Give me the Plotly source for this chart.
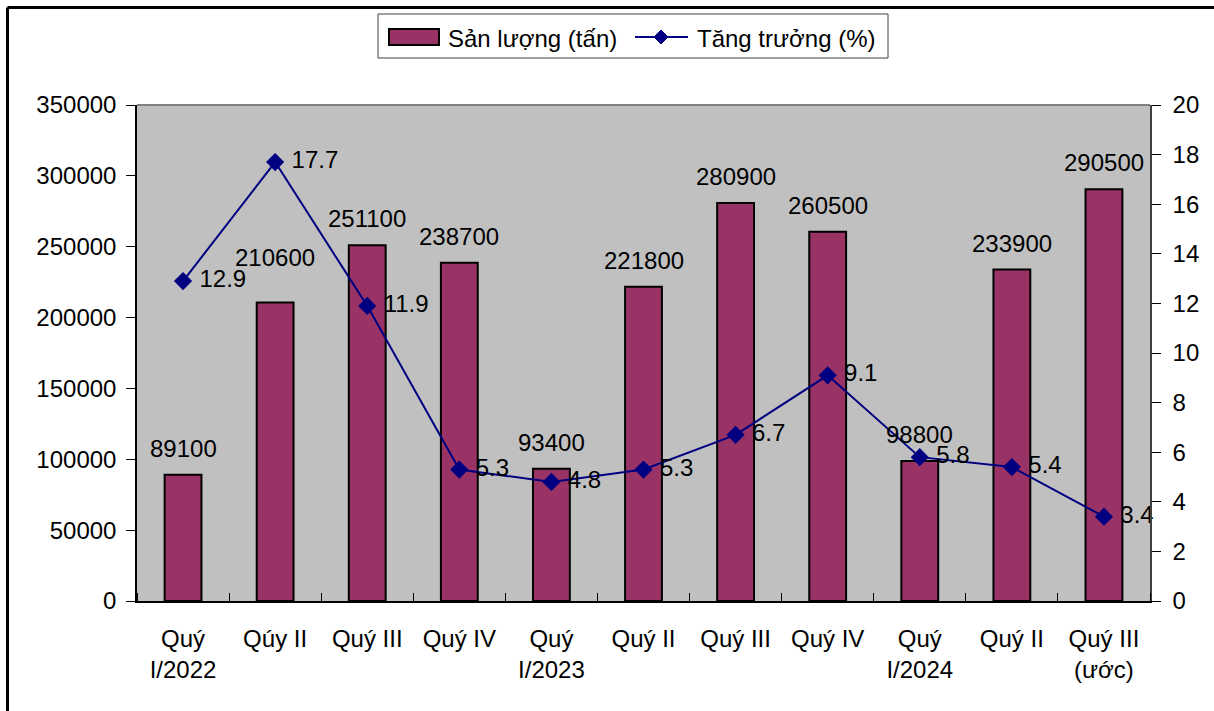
import plotly.graph_objects as go

categories = ["Quý<br>I/2022", "Qúy II", "Quý III", "Quý IV", "Quý<br>I/2023",
              "Quý II", "Quý III", "Quý IV", "Quý<br>I/2024", "Quý II", "Quý III<br>(ước)"]
san_luong = [89100, 210600, 251100, 238700, 93400, 221800, 280900, 260500, 98800, 233900, 290500]
tang_truong = [12.9, 17.7, 11.9, 5.3, 4.8, 5.3, 6.7, 9.1, 5.8, 5.4, 3.4]
y_ticks = [0, 50000, 100000, 150000, 200000, 250000, 300000, 350000]
y2_ticks = list(range(0, 21, 2))
series_names = ["Sản lượng (tấn)", "Tăng trưởng (%)"]

BAR_COLOR = "#993366"
LINE_COLOR = "#000080"
x = list(range(len(categories)))
FONT = "Liberation Sans, Arial, sans-serif"
FS = 24

# label placement (style): extra upward nudge of a bar label, in pixels
label_nudge = {1: 19}

fig = go.Figure()
fig.add_trace(go.Bar(
    x=x, y=san_luong, name=series_names[0],
    marker=dict(color=BAR_COLOR, line=dict(color="black", width=2)),
    width=0.4, yaxis="y", showlegend=False, hoverinfo="x+y",
))
fig.add_trace(go.Scatter(
    x=x, y=tang_truong, name=series_names[1],
    mode="lines+markers+text",
    line=dict(color=LINE_COLOR, width=2),
    marker=dict(symbol="diamond", size=14, color=LINE_COLOR),
    text=[" " + str(v) for v in tang_truong], textposition="middle right",
    textfont=dict(size=FS, color="black", family=FONT),
    cliponaxis=False, yaxis="y2", showlegend=False,
))

L, R, T, B = 137, 1150, 105, 601
W, H = 1214, 711
pw, ph = R - L, B - T

def px_x(p):
    return (p - L) / pw

def px_y(p):
    return (B - p) / ph

def rect(x0, y0, x1, y1, **kw):
    return dict(type="rect", xref="paper", yref="paper",
                x0=px_x(x0), x1=px_x(x1), y0=px_y(y0), y1=px_y(y1), **kw)

def line(x0, y0, x1, y1, **kw):
    return dict(type="line", xref="paper", yref="paper",
                x0=px_x(x0), x1=px_x(x1), y0=px_y(y0), y1=px_y(y1), **kw)

# diamond for legend
cx, cy, r = 661, 37, 7
diamond = "M {a},{b} L {c},{d} L {e},{f} L {g},{h} Z".format(
    a=px_x(cx - r), b=px_y(cy), c=px_x(cx), d=px_y(cy - r),
    e=px_x(cx + r), f=px_y(cy), g=px_x(cx), h=px_y(cy + r))

shapes = [
    line(L, T, R, T, line=dict(color="#808080", width=2)),
    # outer frame (top and left edges visible)
    line(7.5, 7.5, 7.5, 730, line=dict(color="black", width=3)),
    line(7.5, 7.5, 1230, 7.5, line=dict(color="black", width=3)),
    # legend box
    rect(378, 14, 888, 58, line=dict(color="#404040", width=1), fillcolor="white"),
    rect(389, 29, 439, 45, line=dict(color="black", width=2), fillcolor=BAR_COLOR),
    line(635, 37, 688, 37, line=dict(color=LINE_COLOR, width=2)),
    dict(type="path", xref="paper", yref="paper", path=diamond,
         fillcolor=LINE_COLOR, line=dict(color=LINE_COLOR, width=1)),
]

annotations = [
    dict(xref="paper", yref="paper", x=px_x(446), y=px_y(38), xanchor="left", yanchor="middle",
         text=series_names[0], showarrow=False, font=dict(size=FS, family=FONT, color="black")),
    dict(xref="paper", yref="paper", x=px_x(695), y=px_y(38), xanchor="left", yanchor="middle",
         text=series_names[1], showarrow=False, font=dict(size=FS, family=FONT, color="black")),
]
# bar value labels, anchored at the top of each bar
for xi, v in zip(x, san_luong):
    annotations.append(dict(
        xref="x", yref="y", x=xi, y=v, xanchor="center", yanchor="bottom",
        yshift=11 + label_nudge.get(xi, 0),
        text=str(v), showarrow=False, font=dict(size=FS, family=FONT, color="black")))

fig.update_layout(
    width=W, height=H,
    margin=dict(l=L, r=W - R, t=T, b=H - B, pad=0, autoexpand=False),
    paper_bgcolor="white", plot_bgcolor="#C0C0C0",
    font=dict(family=FONT, size=FS, color="black"),
    showlegend=False,
    xaxis=dict(
        range=[-0.5, len(categories) - 0.5],
        tickmode="array", tickvals=x, ticktext=categories,
        ticks="", showgrid=False, zeroline=False,
        showline=True, linecolor="black", linewidth=1.5,
        tickfont=dict(size=FS, family=FONT), ticklabelstandoff=15,
        minor=dict(tickmode="linear", tick0=-0.5, dtick=1, ticks="inside",
                   ticklen=8, tickcolor="black", showgrid=False),
    ),
    yaxis=dict(
        range=[0, 350000], tickmode="array", tickvals=y_ticks, tickformat="d",
        ticks="outside", ticklen=9, tickcolor="black",
        showgrid=False, zeroline=False,
        showline=True, linecolor="black", linewidth=1.5,
        tickfont=dict(size=FS, family=FONT), ticklabelstandoff=5,
    ),
    yaxis2=dict(
        range=[0, 20], tickmode="array", tickvals=y2_ticks,
        overlaying="y", side="right",
        ticks="outside", ticklen=9, tickcolor="black",
        showgrid=False, zeroline=False,
        showline=True, linecolor="#404040", linewidth=1.5,
        tickfont=dict(size=FS, family=FONT), ticklabelstandoff=7,
    ),
    shapes=shapes,
    annotations=annotations,
)

fig.write_html("out.html", config={"displayModeBar": False},
               post_script="document.body.style.margin='0px';")
